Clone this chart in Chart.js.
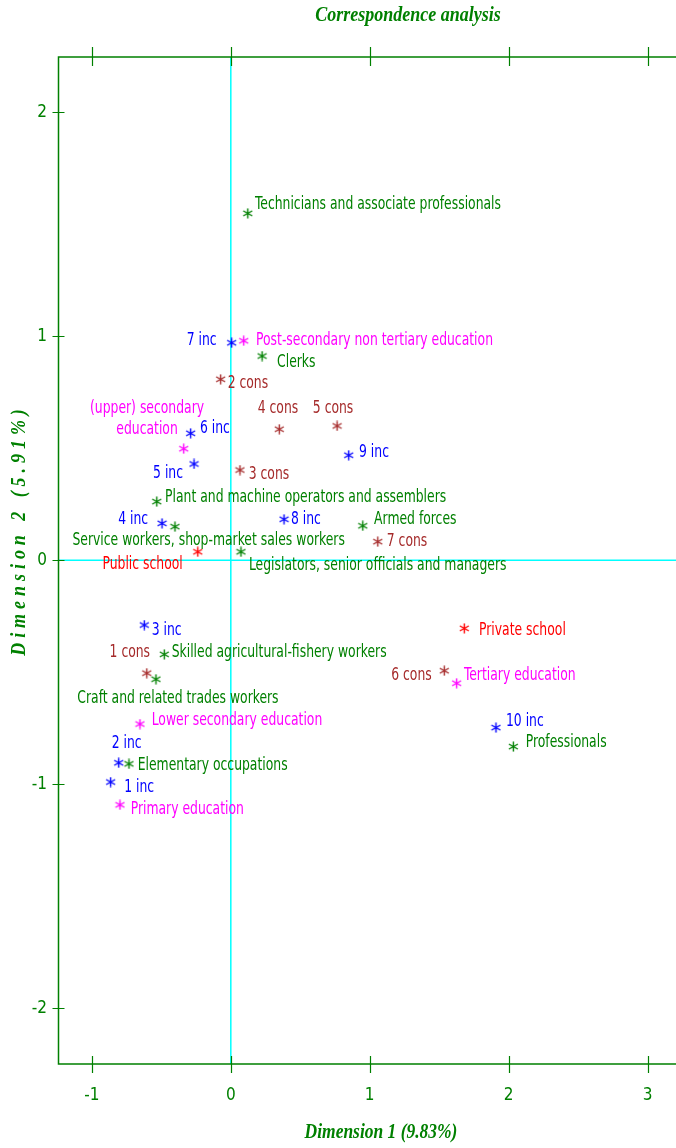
<!DOCTYPE html>
<html>
<head>
<meta charset="utf-8">
<title>Correspondence analysis</title>
<script src="https://cdn.jsdelivr.net/npm/chart.js@4.4.1/dist/chart.umd.min.js"></script>
<style>
  html, body { margin: 0; padding: 0; background: #ffffff; overflow: hidden; }
  #wrap { width: 676px; height: 1148px; overflow: hidden; }
  #ca { display: block; }
</style>
</head>
<body>
<div id="wrap"><canvas id="ca" width="676" height="1148"></canvas></div>
<script>
// Category coordinates on the first two dimensions
const incLabels = ['1 inc', '2 inc', '3 inc', '4 inc', '5 inc', '6 inc', '7 inc', '8 inc', '9 inc', '10 inc'];
const incX = [-0.865, -0.807, -0.623, -0.495, -0.265, -0.289, 0.006, 0.383, 0.849, 1.909];
const incY = [-0.990, -0.904, -0.289, 0.165, 0.430, 0.567, 0.971, 0.183, 0.469, -0.747];

const consLabels = ['1 cons', '2 cons', '3 cons', '4 cons', '5 cons', '6 cons', '7 cons'];
const consX = [-0.605, -0.073, 0.066, 0.349, 0.765, 1.537, 1.058];
const consY = [-0.504, 0.808, 0.403, 0.585, 0.600, -0.493, 0.083];

const eduLabels = ['Primary education', 'Lower secondary education', '(upper) secondary\neducation',
  'Post-secondary non tertiary education', 'Tertiary education'];
const eduX = [-0.798, -0.654, -0.339, 0.093, 1.626];
const eduY = [-1.092, -0.731, 0.498, 0.980, -0.549];

const occLabels = ['Legislators, senior officials and managers', 'Professionals',
  'Technicians and associate professionals', 'Clerks', 'Service workers, shop-market sales workers',
  'Skilled agricultural-fishery workers', 'Craft and related trades workers',
  'Plant and machine operators and assemblers', 'Elementary occupations', 'Armed forces'];
const occX = [0.073, 2.034, 0.122, 0.225, -0.402, -0.479, -0.539, -0.533, -0.733, 0.950];
const occY = [0.038, -0.832, 1.549, 0.912, 0.150, -0.420, -0.531, 0.262, -0.909, 0.154];

const schoolLabels = ['Public school', 'Private school'];
const schoolX = [-0.238, 1.681];
const schoolY = [0.038, -0.304];

const xTicks = [-1, 0, 1, 2, 3];
const yTicks = [-2, -1, 0, 1, 2];

const chartTitle = 'Correspondence analysis';
const xTitle = 'Dimension 1 (9.83%)';
const yTitle = 'Dimension 2 (5.91%)';

// Label placement around each marker: [dx, dy, align] in pixels
const labelPlacement = {
  '1 inc': [13.6, 6, 'left'],
  '2 inc': [-7, -19, 'left'],
  '3 inc': [7.4, 5.7, 'left'],
  '4 inc': [-14, -4, 'right'],
  '5 inc': [-11, 10, 'right'],
  '6 inc': [9.3, -4.3, 'left'],
  '7 inc': [-15, -2, 'right'],
  '8 inc': [7, 0.4, 'left'],
  '9 inc': [10.3, -2.3, 'left'],
  '10 inc': [10, -6, 'left'],
  '1 cons': [3.3, -20.6, 'right'],
  '2 cons': [7, 4, 'left'],
  '3 cons': [8.7, 5, 'left'],
  '4 cons': [-1.3, -20.3, 'center'],
  '5 cons': [-4, -17, 'center'],
  '6 cons': [-12.6, 5.3, 'right'],
  '7 cons': [9, 0, 'left'],
  'Primary education': [10.7, 4.3, 'left'],
  'Lower secondary education': [11.7, -3.3, 'left'],
  '(upper) secondary\neducation': [-36.7, -39.7, 'center'],
  'Post-secondary non tertiary education': [12.3, 0, 'left'],
  'Tertiary education': [7.3, -8, 'left'],
  'Legislators, senior officials and managers': [8, 14.3, 'left'],
  'Professionals': [12.4, -4, 'left'],
  'Technicians and associate professionals': [7.3, -8.3, 'left'],
  'Clerks': [15, 6.7, 'left'],
  'Service workers, shop-market sales workers': [33.7, 14.3, 'center'],
  'Skilled agricultural-fishery workers': [7.4, -1.6, 'left'],
  'Craft and related trades workers': [22, 19, 'center'],
  'Plant and machine operators and assemblers': [8.3, -4.4, 'left'],
  'Elementary occupations': [8.7, 2, 'left'],
  'Armed forces': [11.3, -6.4, 'left'],
  'Public school': [-15, 12.6, 'right'],
  'Private school': [14.7, 2.4, 'left']
};

const GREEN = '#008000';
const CYAN = '#00ffff';
const SANS = '"Liberation Sans Narrow", "DejaVu Sans Condensed", sans-serif';
const LABEL_FONT = '17px ' + SANS;
const LABEL_STRETCH = 0.81;
const SERIF_BI = 'italic bold 20px "Liberation Serif", "DejaVu Serif", serif';

// Six-armed asterisk marker drawn once per colour
function asterisk(color) {
  const c = document.createElement('canvas');
  c.width = 11; c.height = 11;
  const g = c.getContext('2d');
  g.strokeStyle = color;
  g.lineWidth = 1.4;
  g.beginPath();
  g.moveTo(5.5, 0.5); g.lineTo(5.5, 10.5);
  g.moveTo(1, 3); g.lineTo(10, 8);
  g.moveTo(1, 8); g.lineTo(10, 3);
  g.stroke();
  return c;
}

function points(xs, ys) {
  return xs.map((x, i) => ({ x: x, y: ys[i] }));
}

function series(name, labels, xs, ys, color) {
  return {
    label: name,
    data: points(xs, ys),
    pointLabels: labels,
    borderColor: color,
    backgroundColor: color,
    pointStyle: asterisk(color),
    pointRadius: 5,
    pointHoverRadius: 5,
    showLine: false
  };
}

const datasets = [
  series('Income', incLabels, incX, incY, '#0000ff'),
  series('Consumption', consLabels, consX, consY, '#a52a2a'),
  series('Education', eduLabels, eduX, eduY, '#ff00ff'),
  series('Occupation', occLabels, occX, occY, GREEN),
  series('School', schoolLabels, schoolX, schoolY, '#ff0000')
];

// Text squeezed horizontally to a narrow stroke-like face
function narrowText(ctx, text, x, y, align, stretch) {
  const w = ctx.measureText(text).width * stretch;
  let left = x;
  if (align === 'center') left = x - w / 2;
  else if (align === 'right') left = x - w;
  ctx.save();
  ctx.translate(left, y);
  ctx.scale(stretch, 1);
  ctx.textAlign = 'left';
  ctx.fillText(text, 0, 0);
  ctx.restore();
}

// Cyan reference lines through the origin
const zeroLines = {
  id: 'zeroLines',
  beforeDatasetsDraw(chart) {
    const { ctx, chartArea: a, scales: { x, y } } = chart;
    ctx.save();
    ctx.strokeStyle = CYAN;
    ctx.lineWidth = 1.5;
    const x0 = x.getPixelForValue(0);
    const y0 = y.getPixelForValue(0);
    ctx.beginPath();
    ctx.moveTo(x0, a.top); ctx.lineTo(x0, a.bottom);
    ctx.moveTo(a.left, y0); ctx.lineTo(a.right, y0);
    ctx.stroke();
    ctx.restore();
  }
};

// Frame on left, top and bottom with tick marks crossing the lines
const frame = {
  id: 'frame',
  afterDatasetsDraw(chart) {
    const { ctx, chartArea: a, scales: { x, y } } = chart;
    ctx.save();
    ctx.strokeStyle = GREEN;
    ctx.lineWidth = 1.5;
    ctx.beginPath();
    ctx.moveTo(a.right, a.top); ctx.lineTo(a.left, a.top);
    ctx.lineTo(a.left, a.bottom); ctx.lineTo(a.right, a.bottom);
    ctx.stroke();
    ctx.lineWidth = 1.2;
    ctx.beginPath();
    xTicks.forEach(v => {
      const px = Math.round(x.getPixelForValue(v)) + 0.5;
      ctx.moveTo(px, a.top - 10); ctx.lineTo(px, a.top + 9);
      ctx.moveTo(px, a.bottom - 8); ctx.lineTo(px, a.bottom + 9);
    });
    yTicks.forEach(v => {
      const py = Math.round(y.getPixelForValue(v)) + 0.5;
      ctx.moveTo(a.left - 6, py); ctx.lineTo(a.left + 6, py);
    });
    ctx.stroke();
    ctx.restore();
  }
};

// Text labels beside each marker
const markerLabels = {
  id: 'markerLabels',
  afterDatasetsDraw(chart) {
    const ctx = chart.ctx;
    ctx.save();
    ctx.font = LABEL_FONT;
    ctx.textBaseline = 'middle';
    chart.data.datasets.forEach((ds, di) => {
      const meta = chart.getDatasetMeta(di);
      ds.pointLabels.forEach((text, i) => {
        const el = meta.data[i];
        const p = labelPlacement[text] || [8, 0, 'left'];
        ctx.fillStyle = ds.borderColor;
        text.split('\n').forEach((line, li) => {
          narrowText(ctx, line, el.x + p[0], el.y + p[1] + li * 20.5, p[2], LABEL_STRETCH);
        });
      });
    });
    ctx.restore();
  }
};

// Chart title and axis titles
const titles = {
  id: 'titles',
  afterDraw(chart) {
    const ctx = chart.ctx;
    ctx.save();
    ctx.fillStyle = GREEN;
    ctx.textBaseline = 'middle';
    ctx.font = SERIF_BI;
    narrowText(ctx, chartTitle, 408, 16, 'center', 0.9);
    narrowText(ctx, xTitle, 381, 1133, 'center', 0.873);
    ctx.translate(20, 530);
    ctx.rotate(-Math.PI / 2);
    ctx.letterSpacing = '5.5px';
    narrowText(ctx, yTitle, 0, 0, 'center', 0.9);
    ctx.restore();
  }
};

new Chart(document.getElementById('ca'), {
  type: 'scatter',
  data: { datasets: datasets },
  options: {
    responsive: false,
    animation: false,
    devicePixelRatio: 1,
    layout: { autoPadding: false, padding: { top: 57, right: 0, bottom: 0, left: 0 } },
    plugins: {
      legend: { display: false },
      title: { display: false },
      tooltip: { enabled: false }
    },
    scales: {
      x: {
        type: 'linear',
        position: 'bottom',
        min: -1.2405,
        max: 3.205,
        afterBuildTicks: s => { s.ticks = xTicks.map(v => ({ value: v })); },
        afterFit: s => { s.height = 84; s.paddingLeft = 0; s.paddingRight = 0; },
        grid: { display: false, drawTicks: false },
        border: { display: false },
        ticks: {
          color: GREEN,
          padding: 21,
          font: { family: SANS, size: 17 },
          callback: v => String(v)
        }
      },
      y: {
        type: 'linear',
        position: 'left',
        min: -2.249,
        max: 2.247,
        afterBuildTicks: s => { s.ticks = yTicks.map(v => ({ value: v })); },
        afterFit: s => { s.width = 58.5; s.paddingTop = 0; s.paddingBottom = 0; },
        grid: { display: false, drawTicks: false },
        border: { display: false },
        ticks: {
          color: GREEN,
          padding: 11.5,
          font: { family: SANS, size: 17 },
          callback: v => String(v)
        }
      }
    }
  },
  plugins: [zeroLines, frame, markerLabels, titles]
});
</script>
</body>
</html>
